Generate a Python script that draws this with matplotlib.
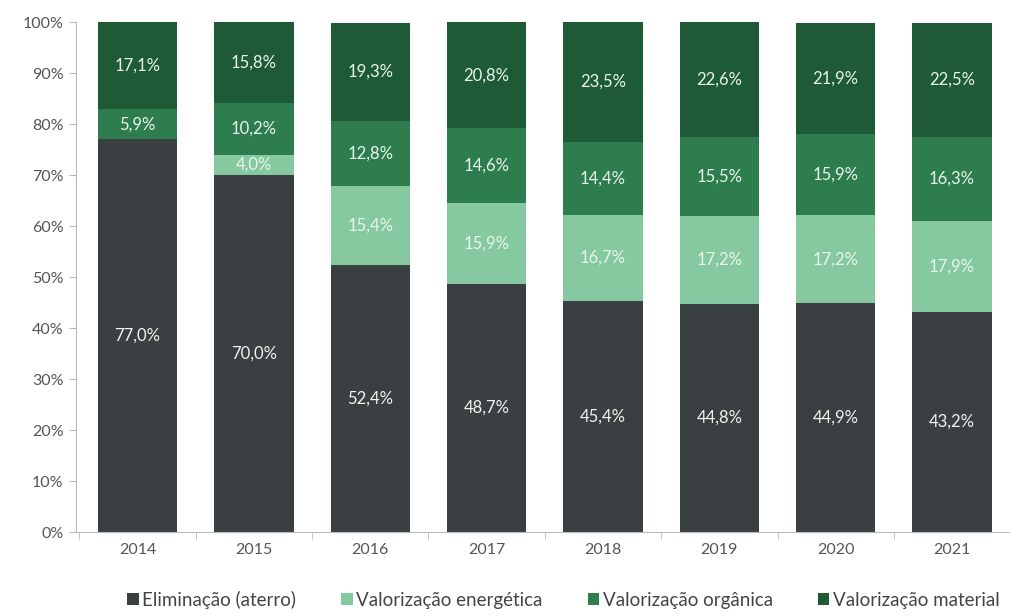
import matplotlib
matplotlib.use("Agg")
import matplotlib.pyplot as plt
import numpy as np

years = ["2014", "2015", "2016", "2017", "2018", "2019", "2020", "2021"]
eliminacao = [77.0, 70.0, 52.4, 48.7, 45.4, 44.8, 44.9, 43.2]
energetica = [0.0, 4.0, 15.4, 15.9, 16.7, 17.2, 17.2, 17.9]
organica = [5.9, 10.2, 12.8, 14.6, 14.4, 15.5, 15.9, 16.3]
material = [17.1, 15.8, 19.3, 20.8, 23.5, 22.6, 21.9, 22.5]
series_names = ["Eliminação (aterro)", "Valorização energética",
                "Valorização orgânica", "Valorização material"]

colors = ["#3a3f42", "#86c9a0", "#2e7d4f", "#1f5a36"]
label_colors = ["#eef5ee", "#e8f5ea", "#e8f5ea", "#e8f5ea"]

plt.rcParams['font.family'] = ['Lato', 'DejaVu Sans']

fig = plt.figure(figsize=(10.10, 6.16), dpi=100)
ax = fig.add_axes([0.0752, 0.136, 0.925, 0.828])

x = np.arange(len(years))
width = 0.68
bottom = np.zeros(len(years))
data = [eliminacao, energetica, organica, material]
for vals, col, lc, name in zip(data, colors, label_colors, series_names):
    vals = np.array(vals)
    ax.bar(x, vals, width, bottom=bottom, color=col, label=name, zorder=2)
    for xi, b, v in zip(x, bottom, vals):
        if v > 0:
            ax.text(xi, b + v / 2, f"{v:.1f}%".replace(".", ","), ha="center",
                    va="center", color=lc, fontsize=12)
    bottom += vals

ax.set_ylim(0, 100)
ax.set_xlim(-0.53, 7.47)
ax.set_yticks(np.arange(0, 101, 10))
ax.set_yticklabels([f"{v}%" for v in range(0, 101, 10)], color="#555555", fontsize=11.5)
ax.set_xticks(x)
ax.set_xticklabels(years, color="#555555", fontsize=11.5)
ax.tick_params(axis="x", length=0, pad=8)
ax.set_xticks(np.arange(-0.5, 8, 1), minor=True)
ax.tick_params(axis="x", which="minor", length=5, color="#bbbbbb")
ax.tick_params(axis="y", length=5, color="#bbbbbb", pad=4)
for s in ["top", "right"]:
    ax.spines[s].set_visible(False)
for s in ["left", "bottom"]:
    ax.spines[s].set_color("#bbbbbb")

handles, labels = ax.get_legend_handles_labels()
leg = fig.legend(handles, labels, loc="center", bbox_to_anchor=(0.558, 0.026), ncol=4,
                 frameon=False, fontsize=13.5, handlelength=0.6, handleheight=0.6,
                 handletextpad=0.2, columnspacing=2.4)
for t in leg.get_texts():
    t.set_color("#444444")

fig.savefig("out.png", dpi=100)
